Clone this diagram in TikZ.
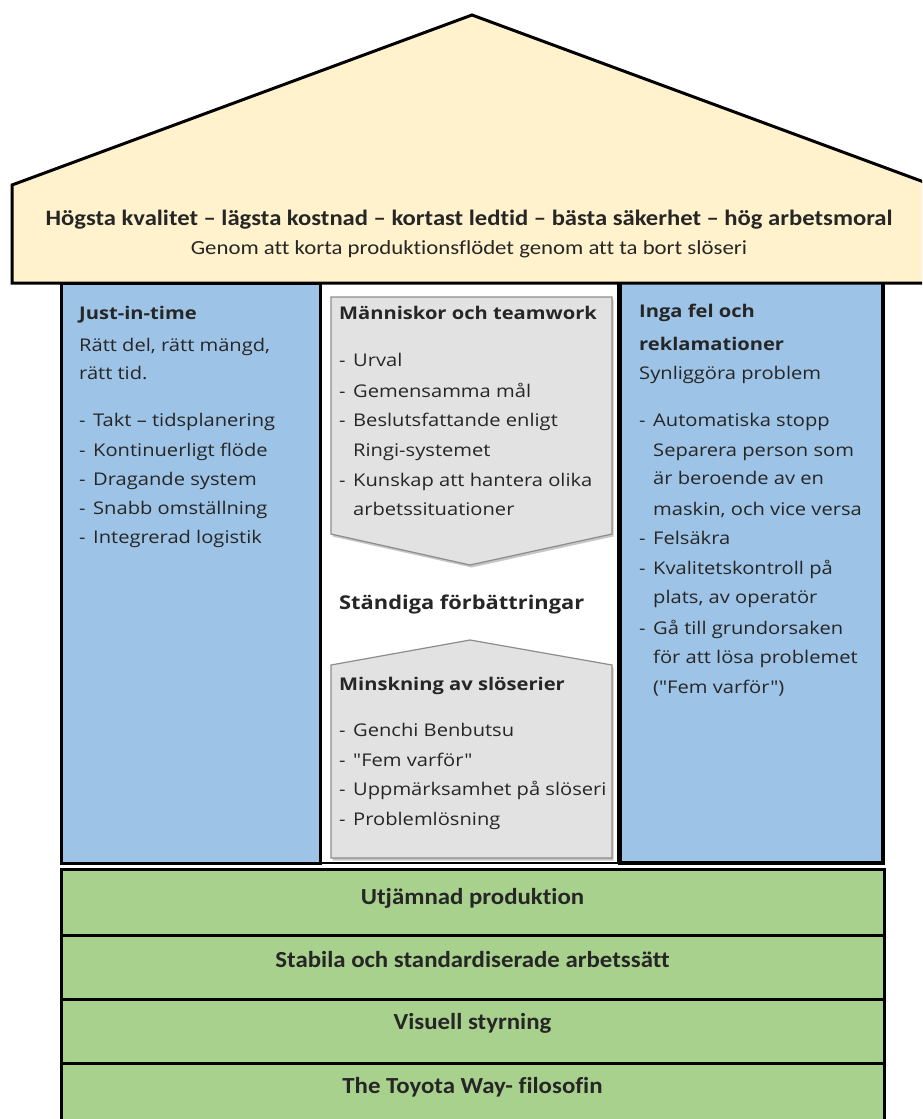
\documentclass[tikz,border=0pt]{standalone}
\usepackage{fontspec}
\setmainfont{Carlito}[Ligatures=NoCommon]
\newfontfamily\segf{Open Sans}[FakeStretch=1.15]
\newfontfamily\rooft{Carlito}[FakeStretch=1.12, Ligatures=NoCommon]
\newfontfamily\roofs{Carlito}[FakeStretch=1.14, Ligatures=NoCommon]
\newfontfamily\bandf{Carlito}[FakeStretch=1.08, Ligatures=NoCommon]
\definecolor{roofc}{HTML}{FFF2CC}
\definecolor{pillc}{HTML}{9DC3E6}
\definecolor{bandc}{HTML}{A9D18E}
\definecolor{boxc}{HTML}{E2E2E2}
\definecolor{boxl}{HTML}{8C8C8C}
\definecolor{ink}{HTML}{262626}
\newcommand{\dsh}{\makebox[14pt][l]{-}}
\newcommand{\ind}{\hspace*{14pt}}
\begin{document}
\begin{tikzpicture}[x=1pt,y=-1pt,
  txt/.style={font=\segf\fontsize{17.5}{20}\selectfont, inner sep=0pt, anchor=base west, text=ink},
  hd/.style={txt, font=\segf\bfseries\fontsize{17.5}{20}\selectfont},
  bigtxt/.style={txt, font=\segf\bfseries\fontsize{19}{22}\selectfont},
  bandbox/.style={draw=black, line width=3pt, fill=bandc, rectangle, minimum width=823pt, inner sep=0pt},
  bandtxt/.style={font=\bandf\bfseries\fontsize{23}{26}\selectfont, inner sep=0pt, anchor=base, text=ink},
  graybox/.style={fill=boxc, draw=boxl, line width=1.2pt},
  shadowbox/.style={fill=black!22, draw=none}]
\useasboundingbox (0,0) rectangle (922,1119);
\clip (0,0) rectangle (922,1119);

% pillars
\node[draw=black, line width=2.5pt, fill=white, minimum width=298pt, minimum height=580pt, inner sep=0pt] (mid) at (469,573) {};
\node[draw=black, line width=3pt, fill=pillc, minimum width=259pt, minimum height=580pt, inner sep=0pt] (lp) at (190.5,573) {};
\node[draw=black, line width=4pt, fill=pillc, minimum width=263pt, minimum height=582pt, inner sep=0pt] (rp) at (751.5,572) {};

% gray arrow boxes
\fill[shadowbox, shift={(1.5pt,-2.5pt)}] (331,297) -- (612,297) -- (612,534) -- (470,565) -- (331,534) -- cycle;
\draw[graybox] (331,297) -- (612,297) -- (612,534) -- (470,565) -- (331,534) -- cycle;
\fill[shadowbox, shift={(1.5pt,-2.5pt)}] (331,665) -- (470,640) -- (612,665) -- (612,858) -- (331,858) -- cycle;
\draw[graybox] (331,665) -- (470,640) -- (612,665) -- (612,858) -- (331,858) -- cycle;

% roof
\draw[line width=3pt, fill=roofc, line join=miter] (12,283) -- (12,185) -- (472,15) -- (932,185) -- (932,283) -- cycle;
\node[font=\rooft\bfseries\fontsize{22}{26}\selectfont, inner sep=0pt, anchor=base, text=ink] (title) at (469,225) {Högsta kvalitet – lägsta kostnad – kortast ledtid – bästa säkerhet – hög arbetsmoral};
\node[font=\roofs\fontsize{20}{22}\selectfont, inner sep=0pt, anchor=base, text=ink] (sub) at (469,254) {Genom att korta produktionsflödet genom att ta bort slöseri};

% left pillar text
\node[hd] (l0) at (79,319) {Just-in-time};
\node[txt] (l1) at (79,351) {Rätt del, rätt mängd,};
\node[txt] (l2) at (79,379) {rätt tid.};
\node[txt] (l3) at (79,426) {\dsh Takt – tidsplanering};
\node[txt] (l4) at (79,456) {\dsh Kontinuerligt flöde};
\node[txt] (l5) at (79,485) {\dsh Dragande system};
\node[txt] (l6) at (79,514) {\dsh Snabb omställning};
\node[txt] (l7) at (79,543) {\dsh Integrerad logistik};

% middle text
\node[hd] (m0) at (339,319) {Människor och teamwork};
\node[txt] (m1) at (339,366) {\dsh Urval};
\node[txt] (m2) at (339,397) {\dsh Gemensamma mål};
\node[txt] (m3) at (339,426) {\dsh Beslutsfattande enligt};
\node[txt] (m4) at (339,456) {\ind Ringi-systemet};
\node[txt] (m5) at (339,486) {\dsh Kunskap att hantera olika};
\node[txt] (m6) at (339,515) {\ind arbetssituationer};
\node[bigtxt] (m7) at (339,609) {Ständiga förbättringar};
\node[hd] (m8) at (339,690) {Minskning av slöserier};
\node[txt] (m9) at (339,736) {\dsh Genchi Benbutsu};
\node[txt] (m10) at (339,766) {\dsh "Fem varför"};
\node[txt] (m11) at (339,795) {\dsh Uppmärksamhet på slöseri};
\node[txt] (m12) at (339,825) {\dsh Problemlösning};

% right pillar text
\node[hd] (r0) at (639,317) {Inga fel och};
\node[hd] (r1) at (639,350) {reklamationer};
\node[txt] (r2) at (639,379) {Synliggöra problem};
\node[txt] (r3) at (639,426) {\dsh Automatiska stopp};
\node[txt] (r4) at (639,456) {\ind Separera person som};
\node[txt] (r5) at (639,484) {\ind är beroende av en};
\node[txt] (r6) at (639,515) {\ind maskin, och vice versa};
\node[txt] (r7) at (639,544) {\dsh Felsäkra};
\node[txt] (r8) at (639,574) {\dsh Kvalitetskontroll på};
\node[txt] (r9) at (639,603) {\ind plats, av operatör};
\node[txt] (r10) at (639,634) {\dsh Gå till grundorsaken};
\node[txt] (r11) at (639,663) {\ind för att lösa problemet};
\node[txt] (r12) at (639,693) {\ind ("Fem varför")};

% foundation bands
\node[bandbox, minimum height=66pt] (b1) at (472.5,902) {};
\node[bandbox, minimum height=64pt] (b2) at (472.5,967) {};
\node[bandbox, minimum height=64pt] (b3) at (472.5,1031) {};
\node[bandbox, minimum height=66pt] (b4) at (472.5,1096) {};
\node[bandtxt] (t1) at (472.5,904) {Utjämnad produktion};
\node[bandtxt] (t2) at (472.5,967) {Stabila och standardiserade arbetssätt};
\node[bandtxt] (t3) at (472.5,1029) {Visuell styrning};
\node[bandtxt] (t4) at (472.5,1093) {The Toyota Way- filosofin};
\end{tikzpicture}
\end{document}
